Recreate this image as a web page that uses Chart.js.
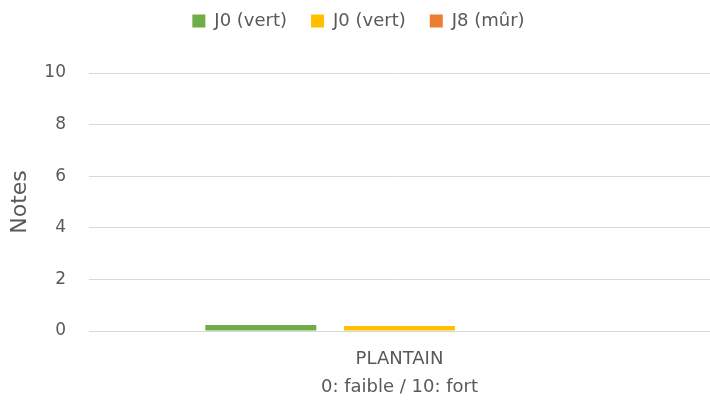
<!DOCTYPE html>
<html>
<head>
<meta charset="utf-8">
<script src="https://cdn.jsdelivr.net/npm/chart.js@4"></script>
<style>
  html, body { margin: 0; padding: 0; background: #fff; overflow: hidden; }
  #wrap { width: 710px; height: 402px; }
</style>
</head>
<body>
<div id="wrap"><canvas id="notesChart" width="710" height="402"></canvas></div>
<script>
// categories and values
var categories = ['PLANTAIN'];
var seriesNames = ['J0 (vert)', 'J0 (vert)', 'J8 (mûr)'];
var seriesColors = ['#70ad47', '#ffc000', '#ed7d31'];
var j0VertA = [0.23];
var j0VertB = [0.19];
var j8Mur = [0];
var yTicks = [0, 2, 4, 6, 8, 10];

var textColor = '#595959';
var fontFamily = "'DejaVu Sans', sans-serif";

var seriesValues = [j0VertA, j0VertB, j8Mur];
var datasets = seriesNames.map(function(name, i) {
    return {
        label: name,
        data: seriesValues[i],
        backgroundColor: seriesColors[i],
        borderWidth: 0,
        categoryPercentage: 0.67,
        barPercentage: 0.8
    };
});

// extra room under the legend, like the original
var legendGap = {
    id: 'legendGap',
    beforeInit: function(chart) {
        var fit = chart.legend.fit;
        chart.legend.fit = function() {
            fit.bind(chart.legend)();
            this.height += 33;
        };
    }
};

var ctx = document.getElementById('notesChart').getContext('2d');
new Chart(ctx, {
    type: 'bar',
    data: { labels: categories, datasets: datasets },
    plugins: [legendGap],
    options: {
        responsive: false,
        animation: false,
        layout: { padding: { left: 7, right: 0, top: -12, bottom: 4 } },
        plugins: {
            legend: {
                position: 'top',
                labels: {
                    color: textColor,
                    font: { family: fontFamily, size: 18 },
                    boxWidth: 13,
                    boxHeight: 13,
                    padding: 24
                }
            },
            tooltip: { enabled: false }
        },
        scales: {
            x: {
                afterFit: function(axis) { axis.height = 67; },
                grid: { display: false, drawTicks: false },
                border: { color: '#d9d9d9', width: 1 },
                ticks: {
                    color: textColor,
                    font: { family: fontFamily, size: 18 },
                    padding: 18
                },
                title: {
                    display: true,
                    text: '0: faible / 10: fort',
                    color: textColor,
                    font: { family: fontFamily, size: 18 },
                    padding: { top: 6, bottom: 0 }
                }
            },
            y: {
                min: 0,
                max: 10,
                afterBuildTicks: function(axis) {
                    axis.ticks = yTicks.map(function(v) { return { value: v }; });
                },
                afterFit: function(axis) { axis.width = 82; },
                grid: { color: '#d9d9d9', drawTicks: false },
                border: { display: false },
                ticks: {
                    color: textColor,
                    font: { family: fontFamily, size: 17 },
                    padding: 23
                },
                title: {
                    display: true,
                    text: 'Notes',
                    color: textColor,
                    font: { family: fontFamily, size: 22 },
                    padding: { top: 0, bottom: 0 }
                }
            }
        }
    }
});
</script>
</body>
</html>
